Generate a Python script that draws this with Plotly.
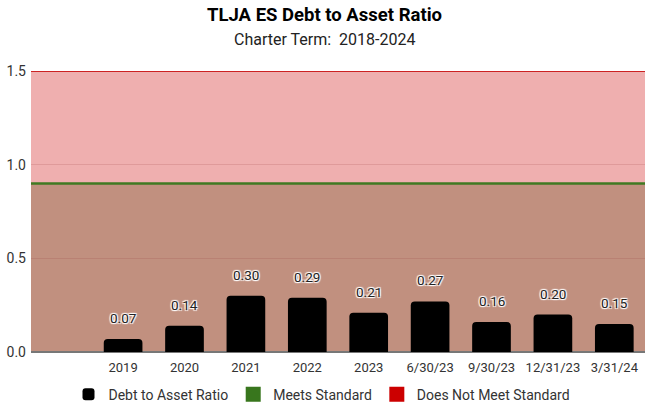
import plotly.graph_objects as go

categories = ["", "2019", "2020", "2021", "2022", "2023", "6/30/23", "9/30/23", "12/31/23", "3/31/24"]
ratios = [None, 0.07, 0.14, 0.30, 0.29, 0.21, 0.27, 0.16, 0.20, 0.15]
labels = ["", "0.07", "0.14", "0.30", "0.29", "0.21", "0.27", "0.16", "0.20", "0.15"]
meets_standard = 0.9
does_not_meet_top = 1.5

fig = go.Figure()
fig.add_trace(go.Bar(
    x=categories, y=ratios, name="Debt to Asset Ratio",
    marker=dict(color="#000000", cornerradius=4, line=dict(width=0)),
    width=0.63, showlegend=True,
))
fig.add_trace(go.Scatter(x=[None], y=[None], mode="markers", name="Meets Standard",
                         marker=dict(symbol="square", size=15, color="#38761d")))
fig.add_trace(go.Scatter(x=[None], y=[None], mode="markers", name="Does Not Meet Standard",
                         marker=dict(symbol="square", size=15, color="#cc0000")))

# shaded bands
fig.add_shape(type="rect", xref="paper", yref="y", x0=0, x1=1, y0=0, y1=does_not_meet_top,
              fillcolor="#efafaf", line=dict(width=0), layer="below")
fig.add_shape(type="rect", xref="paper", yref="y", x0=0, x1=1, y0=0, y1=meets_standard,
              fillcolor="#c1907f", line=dict(width=0), layer="below")
fig.add_shape(type="line", xref="paper", yref="y", x0=0, x1=1, y0=meets_standard, y1=meets_standard,
              line=dict(color="#3f7a22", width=2.5), layer="between")
fig.add_shape(type="line", xref="paper", yref="y", x0=0, x1=1, y0=does_not_meet_top, y1=does_not_meet_top,
              line=dict(color="#cc2222", width=2), layer="between")

halo = "1px 1px 1px white, -1px -1px 1px white, 1px -1px 1px white, -1px 1px 1px white"
for i, (v, t) in enumerate(zip(ratios, labels)):
    if v is None:
        continue
    fig.add_annotation(x=i, y=v, text=t, showarrow=False, yanchor="bottom", yshift=11,
                       font=dict(family="Roboto", size=13.5, color="#222222", shadow=halo))

# title and subtitle
fig.add_annotation(xref="paper", yref="paper", x=(324 - 31) / 614, y=1.199, yanchor="middle",
                   text="<b>TLJA ES Debt to Asset Ratio</b>", showarrow=False,
                   font=dict(family="Roboto", size=18.5, color="#000000"))
fig.add_annotation(xref="paper", yref="paper", x=(324 - 31) / 614, y=1.112, yanchor="middle",
                   text="Charter Term:  2018-2024", showarrow=False,
                   font=dict(family="Roboto", size=16, color="#222222"))

fig.update_layout(
    width=645, height=407,
    margin=dict(l=31, r=0, t=71, b=55, autoexpand=False),
    paper_bgcolor="white", plot_bgcolor="white",
    font=dict(family="Roboto", color="#444444"),
    barmode="overlay",
    legend=dict(orientation="h", x=(322 - 31) / 614, xanchor="center", y=-0.095, yanchor="top",
                font=dict(family="Roboto", size=14, color="#333333"), itemwidth=30,
                traceorder="normal"),
    xaxis=dict(type="category", range=[-0.5, 9.5], showgrid=False, ticks="", automargin=False,
               tickfont=dict(size=13, color="#333333"), showline=False, ticklabelstandoff=6),
    yaxis=dict(range=[0, 1.5], tickvals=[0, 0.5, 1.0, 1.5], tickformat=".1f", automargin=False,
               gridcolor="rgba(150,60,60,0.18)", zeroline=True, zerolinecolor="#777777",
               zerolinewidth=1.5, tickfont=dict(size=14, color="#333333"), ticks="",
               showline=False, ticklabelstandoff=4),
)

post = """
document.body.style.margin='0';
document.body.style.padding='0';
document.body.style.overflow='hidden';
var gd=document.getElementById('{plot_id}');
Plotly.relayout(gd,{width:645,height:407});
"""
fig.write_html("out.html", post_script=post, config={"responsive": False, "displayModeBar": False})
